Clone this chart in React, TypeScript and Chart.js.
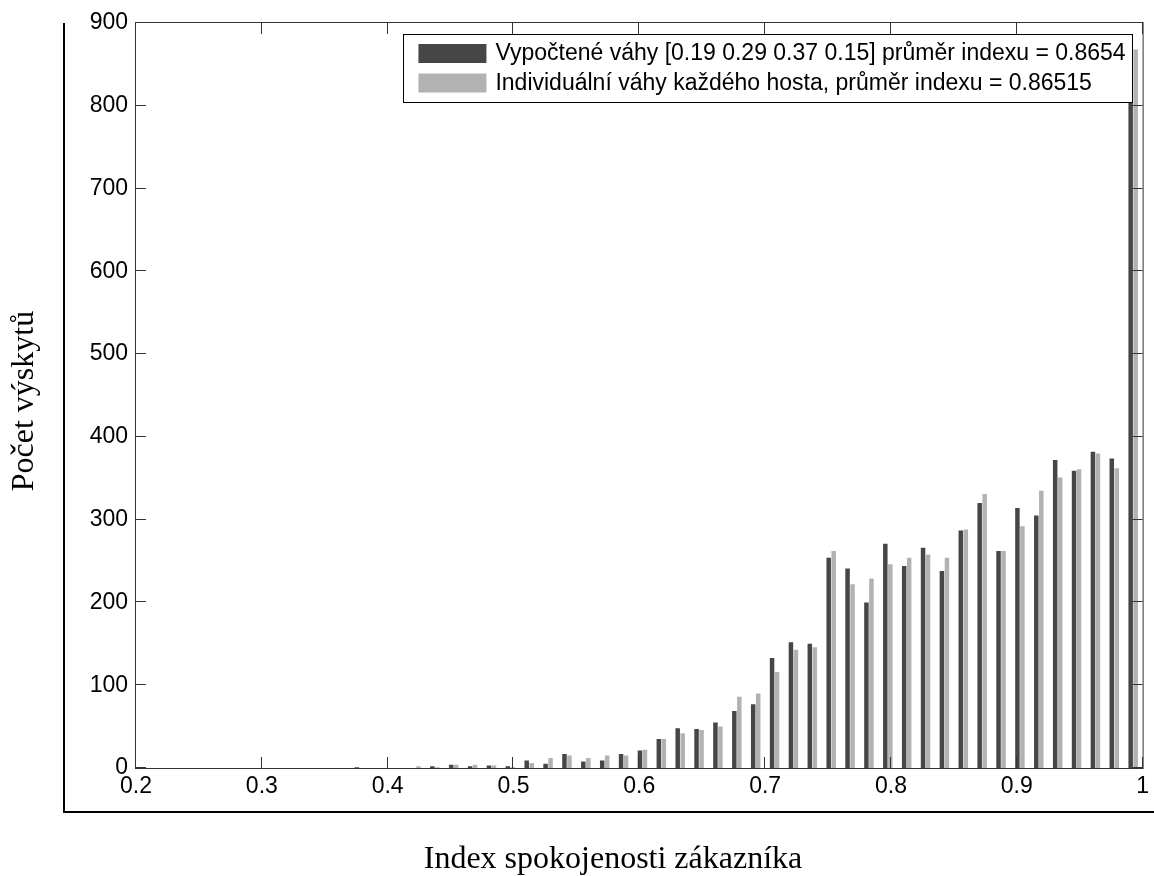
import React, { useEffect, useRef } from "react";
import { Chart, registerables } from "chart.js";

Chart.register(...registerables);

// Bin centres of the histogram (index of customer satisfaction)
const binCenters = [
  0.3775, 0.3925, 0.4075, 0.4225, 0.4375, 0.4525, 0.4675, 0.4825, 0.4975, 0.5125,
  0.5275, 0.5425, 0.5575, 0.5725, 0.5875, 0.6025, 0.6175, 0.6325, 0.6475, 0.6625,
  0.6775, 0.6925, 0.7075, 0.7225, 0.7375, 0.7525, 0.7675, 0.7825, 0.7975, 0.8125,
  0.8275, 0.8425, 0.8575, 0.8725, 0.8875, 0.9025, 0.9175, 0.9325, 0.9475, 0.9625,
  0.9775, 0.9925,
];

// Counts with computed weights [0.19 0.29 0.37 0.15]
const computedCounts = [
  1, 0, 0, 0, 2, 4, 2, 3, 2, 9,
  5, 17, 8, 9, 17, 21, 35, 48, 47, 55,
  69, 77, 133, 152, 150, 254, 241, 200, 271, 244,
  266, 238, 287, 320, 262, 314, 305, 372, 359, 382,
  374, 870,
];

// Counts with individual weights of every guest
const individualCounts = [
  0, 0, 0, 2, 1, 4, 4, 3, 1, 6,
  12, 15, 12, 15, 15, 22, 35, 42, 46, 50,
  86, 90, 116, 143, 146, 262, 222, 229, 246, 254,
  258, 254, 288, 331, 262, 292, 335, 351, 361, 380,
  362, 868,
];

const xTicks = [0.2, 0.3, 0.4, 0.5, 0.6, 0.7, 0.8, 0.9, 1];
const xTickLabels = ["0.2", "0.3", "0.4", "0.5", "0.6", "0.7", "0.8", "0.9", "1"];
const yTicks = [0, 100, 200, 300, 400, 500, 600, 700, 800, 900];

const seriesLabels = [
  "Vypočtené váhy [0.19 0.29 0.37 0.15] průměr indexu = 0.8654",
  "Individuální váhy každého hosta, průměr indexu = 0.86515",
];
const seriesColors = ["#464646", "#b2b2b2"];
const xTitle = "Index spokojenosti zákazníka";
const yTitle = "Počet výskytů";

const SANS = '"Liberation Sans", Arial, sans-serif';
const SERIF = '"Liberation Serif", "Times New Roman", serif';

const decorPlugin = {
  id: "matlabDecor",
  afterDraw(chart: any) {
    const { ctx, chartArea: ca } = chart;
    const xs = chart.scales.x;
    const ys = chart.scales.y;
    ctx.save();

    // plot box
    ctx.strokeStyle = "#333";
    ctx.lineWidth = 1;
    ctx.strokeRect(ca.left - 0.5, ca.top - 0.5, ca.right - ca.left + 1, ca.bottom - ca.top + 1);

    // inward ticks
    ctx.beginPath();
    xTicks.forEach((v) => {
      const p = Math.round(xs.getPixelForValue(v)) - 0.5;
      ctx.moveTo(p, ca.bottom);
      ctx.lineTo(p, ca.bottom - 11);
      ctx.moveTo(p, ca.top);
      ctx.lineTo(p, ca.top + 11);
    });
    yTicks.forEach((v) => {
      const p = Math.round(ys.getPixelForValue(v)) - 0.5;
      ctx.moveTo(ca.left, p);
      ctx.lineTo(ca.left + 10, p);
      ctx.moveTo(ca.right, p);
      ctx.lineTo(ca.right - 10, p);
    });
    ctx.stroke();

    // legend box
    ctx.font = "23px " + SANS;
    const labels = chart.data.datasets.map((d: any) => d.label as string);
    const colors = chart.data.datasets.map((d: any) => d.backgroundColor as string);
    const textW = Math.max(...labels.map((l: string) => ctx.measureText(l).width));
    const padL = 15, swW = 68, gap = 9, padR = 7;
    const boxW = padL + swW + gap + textW + padR;
    const boxRight = ca.right - 10;
    const boxTop = ca.top + 11;
    const boxLeft = boxRight - boxW;
    const boxH = 68;
    ctx.fillStyle = "#fff";
    ctx.fillRect(boxLeft, boxTop, boxW, boxH);
    ctx.strokeStyle = "#000";
    ctx.strokeRect(Math.round(boxLeft) + 0.5, boxTop + 0.5, Math.round(boxW), boxH);
    labels.forEach((l: string, i: number) => {
      const sy = boxTop + 10 + i * 29.5;
      ctx.fillStyle = colors[i];
      ctx.fillRect(boxLeft + padL, sy, swW, 19);
      ctx.fillStyle = "#000";
      ctx.textAlign = "left";
      ctx.textBaseline = "middle";
      ctx.fillText(l, boxLeft + padL + swW + gap, sy + 10);
    });

    // outer frame (figure border)
    ctx.strokeStyle = "#000";
    ctx.lineWidth = 2;
    ctx.beginPath();
    ctx.moveTo(64, ca.top);
    ctx.lineTo(64, 812);
    ctx.lineTo(chart.width, 812);
    ctx.stroke();

    // axis titles
    ctx.fillStyle = "#000";
    ctx.font = "32px " + SERIF;
    ctx.textAlign = "center";
    ctx.textBaseline = "alphabetic";
    ctx.fillText(xTitle, 613, 868);
    ctx.translate(33, 401);
    ctx.rotate(-Math.PI / 2);
    ctx.fillText(yTitle, 0, 0);
    ctx.restore();
  },
};

function HistogramChart() {
  const ref = useRef<HTMLCanvasElement | null>(null);
  useEffect(() => {
    if (!ref.current) return;
    const chart = new Chart(ref.current, {
      type: "bar",
      data: {
        datasets: [
          {
            label: seriesLabels[0],
            data: binCenters.map((x, i) => ({ x, y: computedCounts[i] })),
            backgroundColor: seriesColors[0],
            borderWidth: 0,
            categoryPercentage: 0.53,
            barPercentage: 0.9,
          },
          {
            label: seriesLabels[1],
            data: binCenters.map((x, i) => ({ x, y: individualCounts[i] })),
            backgroundColor: seriesColors[1],
            borderWidth: 0,
            categoryPercentage: 0.53,
            barPercentage: 0.9,
          },
        ],
      },
      options: {
        responsive: false,
        animation: false,
        devicePixelRatio: 1,
        layout: { padding: { left: 0, top: 23, right: 11, bottom: 0 } },
        plugins: { legend: { display: false }, tooltip: { enabled: false } },
        scales: {
          x: {
            type: "linear",
            min: 0.2,
            max: 1,
            offset: false,
            grid: { display: false, drawTicks: false, offset: false },
            border: { display: false },
            afterBuildTicks: (s: any) => {
              s.ticks = xTicks.map((v) => ({ value: v }));
            },
            afterFit: (s: any) => {
              s.height = 108;
            },
            ticks: {
              autoSkip: false,
              maxRotation: 0,
              padding: 5,
              color: "#000",
              font: { family: SANS, size: 23 },
              callback: (v: any) => {
                const i = xTicks.findIndex((t) => Math.abs(t - Number(v)) < 1e-9);
                return i >= 0 ? xTickLabels[i] : "";
              },
            },
          },
          y: {
            type: "linear",
            min: 0,
            max: 900,
            grid: { display: false, drawTicks: false },
            border: { display: false },
            afterBuildTicks: (s: any) => {
              s.ticks = yTicks.map((v) => ({ value: v }));
            },
            afterFit: (s: any) => {
              s.width = 136;
            },
            ticks: {
              autoSkip: false,
              padding: 8,
              color: "#000",
              font: { family: SANS, size: 23 },
              callback: (v: any) => String(v),
            },
          },
        },
      },
      plugins: [decorPlugin],
    } as any);
    return () => chart.destroy();
  }, []);
  return <canvas ref={ref} width={1154} height={876} style={{ display: "block" }} />;
}

export default function App() {
  return (
    <div style={{ position: "absolute", left: 0, top: 0, width: 1154, height: 876, background: "#fff" }}>
      <HistogramChart />
    </div>
  );
}
